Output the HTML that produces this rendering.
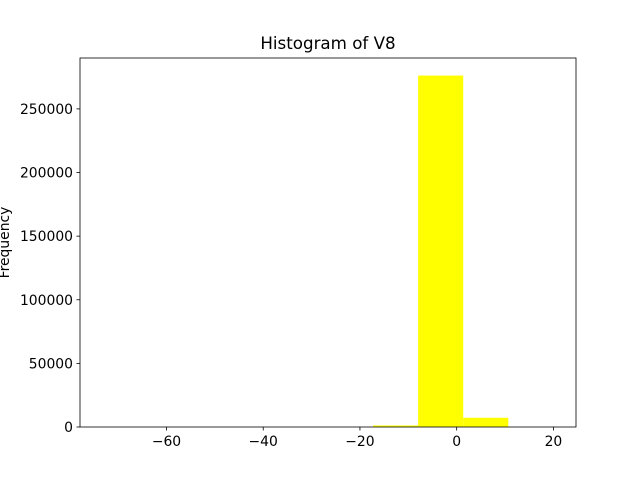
<!DOCTYPE html>
<html><head><meta charset="utf-8"><style>body{margin:0;background:#fff}svg{display:block}text{font-family:"DejaVu Sans","Liberation Sans",sans-serif;fill:#000}</style></head>
<body>
<svg id="chart" width="640" height="480" viewBox="0 0 640 480"></svg>
<script>
const binEdges = [-73.22, -63.90, -54.58, -45.26, -35.94, -26.62, -17.30, -7.97, 1.35, 10.67, 20.01];
const counts = [2, 1, 3, 8, 20, 60, 1200, 276200, 7250, 63];
const xTicks = [-60, -40, -20, 0, 20];
const yTicks = [0, 50000, 100000, 150000, 200000, 250000];
const L=80,R=576,T=58,B=427;
const xmin=-77.88,xmax=24.67,ymax=290010;
const sx=v=>L+(v-xmin)/(xmax-xmin)*(R-L);
const sy=v=>B-v/ymax*(B-T);
const svg=document.getElementById('chart');
const NS='http://www.w3.org/2000/svg';
function mk(tag,attrs,parent){const e=document.createElementNS(NS,tag);for(const k in attrs)e.setAttribute(k,attrs[k]);(parent||svg).appendChild(e);return e;}
const bars=mk('g',{});


counts.forEach((c,i)=>{const x0=sx(binEdges[i]),x1=sx(binEdges[i+1]);const r=mk('rect',{x:x0,y:sy(c),width:x1-x0,height:B-sy(c),fill:'#ffff00'},bars);

});
const frame=mk('rect',{x:L,y:T,width:R-L,height:B-T,fill:'none',stroke:'#000','stroke-width':0.8});


xTicks.forEach(v=>{const x=sx(v);mk('line',{x1:x,x2:x,y1:B,y2:B+3.5,stroke:'#000','stroke-width':0.8});
const t=mk('text',{x:x,y:B+19,'text-anchor':'middle','font-size':13.9});t.textContent=v<0?'\u2212'+(-v):v;

});
yTicks.forEach(v=>{const y=sy(v);mk('line',{x1:L,x2:L-3.5,y1:y,y2:y,stroke:'#000','stroke-width':0.8});
const t=mk('text',{x:L-7,y:y+5,'text-anchor':'end','font-size':13.9});t.textContent=v;

});
const ti=mk('text',{x:(L+R)/2,y:T-9,'text-anchor':'middle','font-size':16.7});ti.textContent='Histogram of V8';


const yl=mk('text',{x:0,y:0,'text-anchor':'middle','font-size':13.9,transform:'translate(9,'+((T+B)/2)+') rotate(-90)'});yl.textContent='Frequency';


</script>
</body></html>
